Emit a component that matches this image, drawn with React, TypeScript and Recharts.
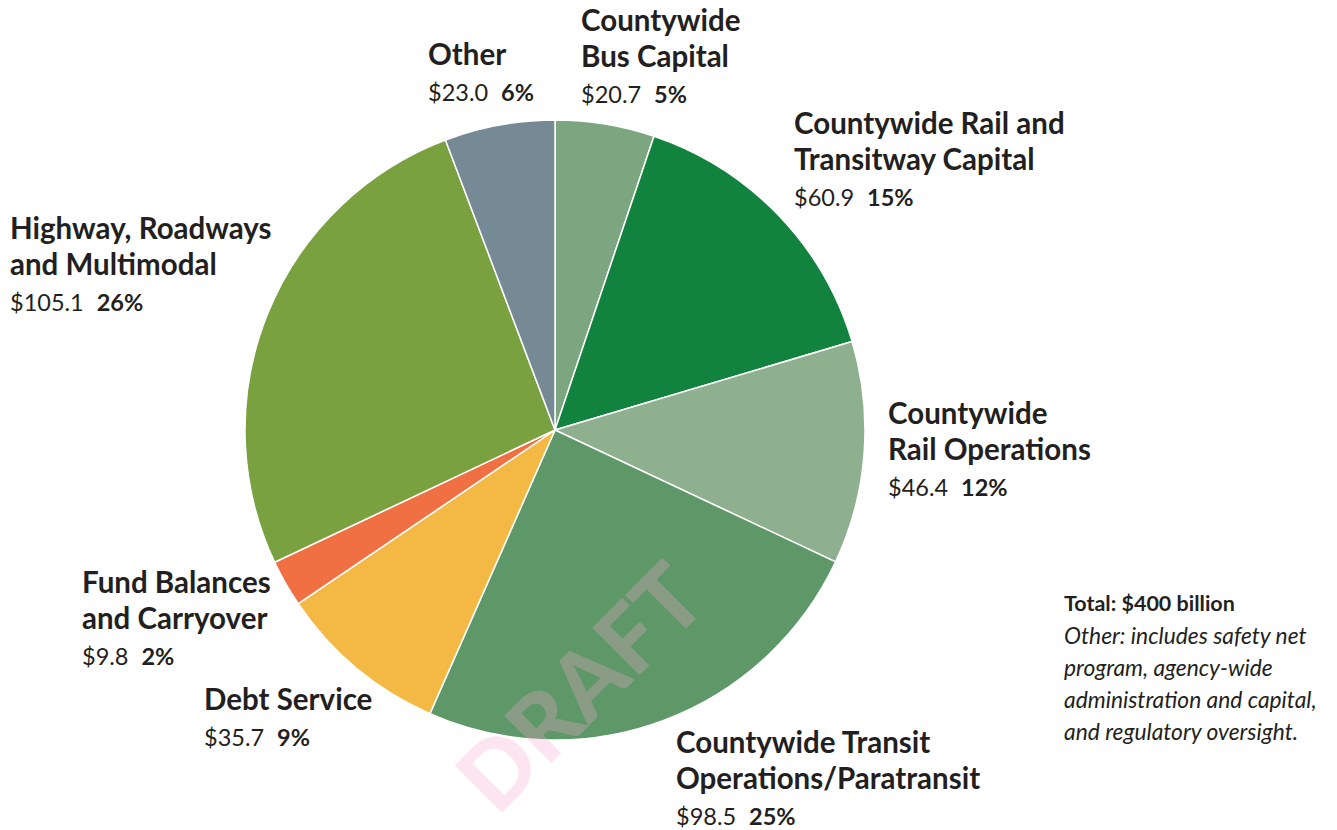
import { PieChart, Pie, Cell } from "recharts";

const names = [
  "Countywide Bus Capital",
  "Countywide Rail and Transitway Capital",
  "Countywide Rail Operations",
  "Countywide Transit Operations/Paratransit",
  "Debt Service",
  "Fund Balances and Carryover",
  "Highway, Roadways and Multimodal",
  "Other",
];
const values = [20.7, 60.9, 46.4, 98.5, 35.7, 9.8, 105.1, 23.0];
const colors = ["#7ba67f", "#12833f", "#8fb08f", "#5e9868", "#f4b944", "#f07043", "#7aa140", "#768a96"];

// label lines as they are broken in the figure
const titleLines = [
  ["Countywide", "Bus Capital"],
  ["Countywide Rail and", "Transitway Capital"],
  ["Countywide", "Rail Operations"],
  ["Countywide Transit", "Operations/Paratransit"],
  ["Debt Service"],
  ["Fund Balances", "and Carryover"],
  ["Highway, Roadways", "and Multimodal"],
  ["Other"],
];
// top-left anchor (x, baseline of first line) for every label block
const labelPos = [
  [573, 23],
  [786, 126],
  [880, 416],
  [668, 745],
  [196, 702],
  [74, 585],
  [2, 231],
  [420, 57],
];

const noteLines = [
  "Other: includes safety net",
  "program, agency-wide",
  "administration and capital,",
  "and regulatory oversight.",
];

const data = names.map((name, i) => ({ name, value: values[i] }));
const total = values.reduce((a, b) => a + b, 0);

const FONT = "Lato, 'Open Sans', sans-serif";
const INK = "#231f20";

function renderLabel(props: any) {
  const i = props.index;
  const [x, y] = labelPos[i];
  const lines = titleLines[i];
  const pct = Math.round((values[i] / total) * 100);
  return (
    <g key={`lbl-${i}`}>
      {lines.map((t, k) => (
        <text key={k} x={x} y={y + k * 36} fill={INK} fontSize={29.5} fontWeight={700} fontFamily={FONT}>
          {t}
        </text>
      ))}
      <text x={x} y={y + lines.length * 36} fill={INK} fontSize={23.5} fontFamily={FONT}>
        <tspan>{`$${values[i].toFixed(1)}`}</tspan>
        <tspan dx={13} fontWeight={700}>{`${pct}%`}</tspan>
      </text>
    </g>
  );
}

export default function App() {
  return (
    <div style={{ position: "relative", width: 1329, height: 822 }}>
      <PieChart width={1329} height={822} margin={{ top: 0, right: 0, bottom: 0, left: 0 }} style={{ overflow: "visible" }}>
        <Pie
          data={data}
          dataKey="value"
          nameKey="name"
          cx={547}
          cy={422}
          outerRadius={310}
          startAngle={90}
          endAngle={-270}
          stroke="#ffffff"
          strokeWidth={1.5}
          label={renderLabel}
          labelLine={false}
          isAnimationActive={false}
        >
          {data.map((d, i) => (
            <Cell key={d.name} fill={colors[i]} />
          ))}
        </Pie>
      </PieChart>
      <svg
        width={1329}
        height={822}
        style={{ position: "absolute", left: 0, top: 0, pointerEvents: "none" }}
      >
        <text x={1056} y={603} fill={INK} fontSize={21.5} fontWeight={700} fontFamily={FONT}>
          Total: $400 billion
        </text>
        {noteLines.map((t, k) => (
          <text key={t} x={1056} y={636 + k * 32} fill={INK} fontSize={22.8} fontStyle="italic" fontFamily={FONT}>
            {t}
          </text>
        ))}
        <text
          x={579}
          y={686}
          transform="rotate(-45 579 686)"
          textAnchor="middle"
          dominantBaseline="middle"
          fill="#f5a5cd"
          fillOpacity={0.3}
          fontSize={92}
          fontWeight={900}
          fontFamily={FONT}
        >
          DRAFT
        </text>
      </svg>
    </div>
  );
}
